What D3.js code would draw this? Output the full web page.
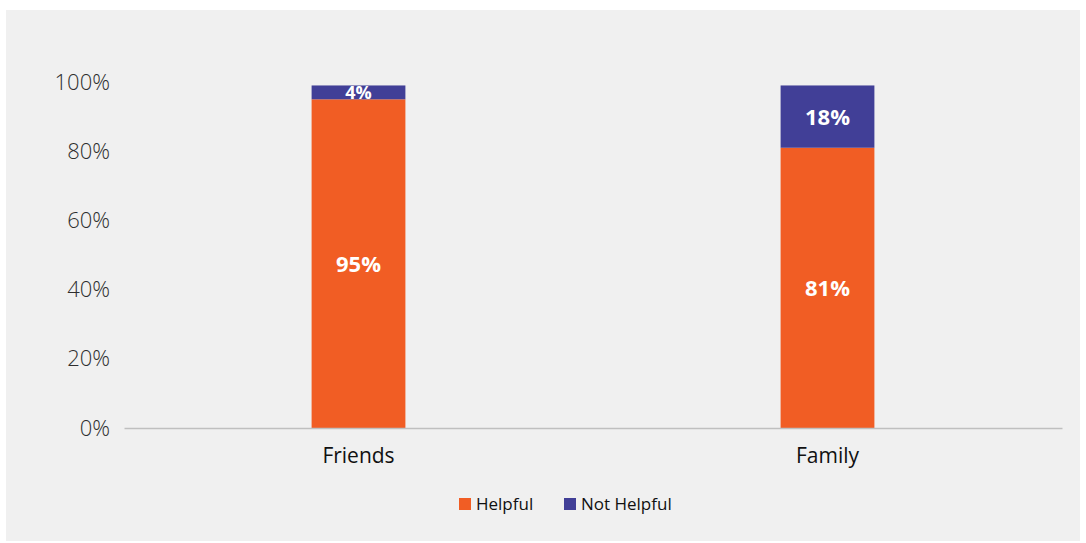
<!DOCTYPE html>
<html>
<head>
<meta charset="utf-8">
<script src="https://cdn.jsdelivr.net/npm/d3@7"></script>
<style>
  html, body { margin: 0; padding: 0; background: #ffffff; }
  svg { display: block; }
</style>
</head>
<body>
<svg id="chart" width="1086" height="543"></svg>
<script>
// Share of respondents rating each source of support
const categories = ["Friends", "Family"];
const helpful = [95, 81];
const notHelpful = [4, 18];
const seriesNames = ["Helpful", "Not Helpful"];
const seriesColors = ["#f15d24", "#413f97"];
const yTicks = [0, 20, 40, 60, 80, 100];

const svg = d3.select("#chart");
const W = 1086, H = 543;

// panel background
svg.append("rect")
  .attr("x", 6).attr("y", 10)
  .attr("width", W - 12).attr("height", H - 12)
  .attr("fill", "#f0f0f0");

const margin = { left: 124, right: 1062, top: 82, bottom: 428 };

const x = d3.scaleBand()
  .domain(categories)
  .range([margin.left, margin.right])
  .padding(0);

const y = d3.scaleLinear()
  .domain([0, 100])
  .range([margin.bottom, margin.top]);

const barW = x.bandwidth() * 0.2;

const rows = categories.map((c, i) => ({ cat: c, Helpful: helpful[i], "Not Helpful": notHelpful[i] }));
const stacked = d3.stack().keys(seriesNames)(rows);

// y axis labels
const yAxis = d3.axisLeft(y)
  .tickValues(yTicks)
  .tickFormat(d => d + "%")
  .tickSize(0)
  .tickPadding(14);

const yg = svg.append("g")
  .attr("transform", `translate(${margin.left},0)`)
  .call(yAxis);
yg.select(".domain").remove();
yg.selectAll("text")
  .attr("font-family", "'Open Sans', sans-serif")
  .attr("font-weight", 300)
  .attr("font-size", 22)
  .attr("fill", "#2e2e2e");

// bars
const groups = svg.append("g").selectAll("g")
  .data(stacked)
  .join("g")
  .attr("fill", (d, i) => seriesColors[i]);

groups.selectAll("rect")
  .data(d => d)
  .join("rect")
  .attr("x", d => x(d.data.cat) + x.bandwidth() / 2 - barW / 2)
  .attr("width", barW)
  .attr("y", d => y(d[1]))
  .attr("height", d => y(d[0]) - y(d[1]));

// value labels
groups.selectAll("text")
  .data(d => d)
  .join("text")
  .attr("x", d => x(d.data.cat) + x.bandwidth() / 2)
  .attr("y", d => (y(d[0]) + y(d[1])) / 2)
  .attr("dy", "0.36em")
  .attr("text-anchor", "middle")
  .attr("font-family", "'Open Sans', sans-serif")
  .attr("font-weight", 700)
  .attr("font-size", d => (d[1] - d[0]) < 8 ? 18 : 22)
  .attr("fill", "#ffffff")
  .text(d => (d[1] - d[0]) + "%");

// x axis
const xAxis = d3.axisBottom(x).tickSize(0).tickPadding(20);
const xg = svg.append("g")
  .attr("transform", `translate(0,${margin.bottom})`)
  .call(xAxis);
xg.select(".domain")
  .attr("stroke", "#bfbfbf")
  .attr("stroke-width", 1.5);
xg.selectAll("text")
  .attr("font-family", "'Open Sans', sans-serif")
  .attr("font-size", 21)
  .attr("fill", "#111111");

// legend
const legend = svg.append("g").attr("transform", "translate(459,504)");
const legendX = [0, 105];
seriesNames.forEach((name, i) => {
  const g = legend.append("g").attr("transform", `translate(${legendX[i]},0)`);
  g.append("rect")
    .attr("x", 0).attr("y", -6)
    .attr("width", 12).attr("height", 12)
    .attr("fill", seriesColors[i]);
  g.append("text")
    .attr("x", 17).attr("y", 0)
    .attr("dy", "0.35em")
    .attr("font-family", "'Open Sans', sans-serif")
    .attr("font-size", 17)
    .attr("fill", "#111111")
    .text(name);
});
</script>
</body>
</html>
